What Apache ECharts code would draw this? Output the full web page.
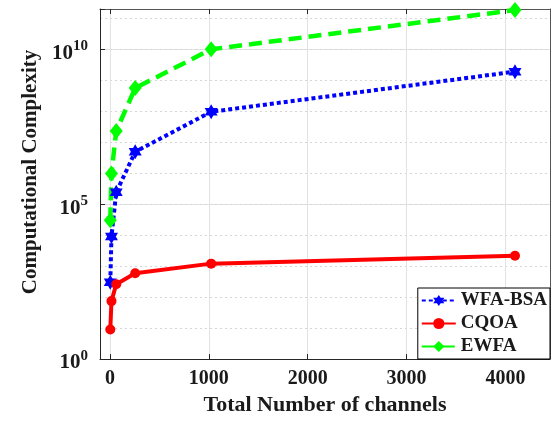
<!DOCTYPE html>
<html>
<head>
<meta charset="utf-8">
<script src="https://cdn.jsdelivr.net/npm/echarts@6/dist/echarts.min.js"></script>
<style>
html,body{margin:0;padding:0;background:#fff;}
#c{width:551px;height:421px;}
</style>
</head>
<body>
<div id="c"></div>
<script>
// ---- data ----
const channels = [4, 16, 64, 256, 1024, 4096];
const wfaBsa = [300, 9100, 2.4e5, 4.9e6, 9.6e7, 1.9e9];
const cqoa = [9, 74, 260, 590, 1200, 2150];
const ewfa = [3e4, 9.7e5, 2.3e7, 5.6e8, 1.0e10, 1.85e11];
const xTicks = [0, 1000, 2000, 3000, 4000];
const seriesNames = ['WFA-BSA', 'CQOA', 'EWFA'];
const xTitle = 'Total Number of channels';
const yTitle = 'Computational Complexity';

const FONT = '"Liberation Serif", "Times New Roman", serif';
const TXT = '#1a1a1a';
const hexagram = 'path://M0,-10L2.887,-5L8.66,-5L5.774,0L8.66,5L2.887,5L0,10L-2.887,5L-8.66,5L-5.774,0L-8.66,-5L-2.887,-5Z';

function pairs(ys){ return channels.map((x,i)=>[x, ys[i]]); }

const chart = echarts.init(document.getElementById('c'), null, {renderer:'canvas'});
const XMIN = -100, XMAX = 4450, YMIN = 1, YMAX = 2e11;

chart.setOption({
  animation: false,
  backgroundColor: '#fff',
  grid: {left: 100, top: 9, right: 1, bottom: 61, containLabel: false},
  xAxis: [{
    type: 'value', min: XMIN, max: XMAX, position: 'bottom',
    name: xTitle, nameLocation: 'middle', nameGap: 35,
    nameTextStyle: {fontFamily: FONT, fontWeight: 'bold', fontSize: 22, color: TXT},
    axisLine: {show: true, onZero: false, lineStyle: {color: '#262626', width: 1}},
    axisTick: {show: true, inside: true, length: 5, customValues: xTicks, lineStyle: {color: '#262626'}},
    axisLabel: {customValues: xTicks, formatter: function(v){ return String(v); },
      fontFamily: FONT, fontWeight: 'bold', fontSize: 20, color: TXT, margin: 10},
    splitLine: {show: true, lineStyle: {color: '#e2e2e2', width: 1}}
  }, {
    type: 'value', min: XMIN, max: XMAX, position: 'top',
    axisLine: {show: true, onZero: false, lineStyle: {color: '#555', width: 1}},
    axisTick: {show: true, inside: true, length: 5, customValues: xTicks, lineStyle: {color: '#262626'}},
    axisLabel: {show: false},
    splitLine: {show: false}
  }],
  yAxis: [{
    type: 'log', logBase: 10, min: YMIN, max: YMAX, interval: 5, position: 'left',
    axisLine: {show: true, onZero: false, lineStyle: {color: '#262626', width: 1}},
    axisTick: {show: true, inside: true, length: 5, lineStyle: {color: '#262626'}},
    axisLabel: {
      margin: 12,
      formatter: function(v){
        const e = Math.round(Math.log10(v));
        if (Math.abs(Math.log10(v) - e) > 1e-6 || e % 5 !== 0) return '';
        return '{b|10}{s|' + e + '}';
      },
      rich: {
        b: {fontFamily: FONT, fontWeight: 'bold', fontSize: 21, color: TXT, padding: [8,0,0,0]},
        s: {fontFamily: FONT, fontWeight: 'bold', fontSize: 15, color: TXT, padding: [0,0,6,0]}
      }
    },
    splitLine: {show: true, lineStyle: {color: '#e2e2e2', width: 1}}
  }, {
    type: 'log', logBase: 10, min: YMIN, max: YMAX, interval: 1, position: 'right',
    axisLine: {show: true, onZero: false, lineStyle: {color: '#555', width: 1}},
    axisTick: {show: false},
    axisLabel: {show: false},
    splitLine: {show: true, lineStyle: {color: '#d6d6d6', width: 1, type: [2, 3]}}
  }],
  legend: {
    orient: 'vertical', right: 1, bottom: 62,
    backgroundColor: '#fff', borderColor: '#000', borderWidth: 1,
    padding: [3, 3, 3, 3], itemGap: 4,
    itemWidth: 34, itemHeight: 14,
    textStyle: {fontFamily: FONT, fontWeight: 'bold', fontSize: 19, color: TXT, padding: [2,0,0,0]},
    data: seriesNames
  },
  graphic: [{
    type: 'text', x: 31, y: 172, rotation: Math.PI / 2,
    style: {text: yTitle, font: 'bold 21px ' + FONT, fill: TXT, textAlign: 'center', textVerticalAlign: 'middle'}
  }],
  series: [{
    name: seriesNames[0], type: 'line', xAxisIndex: 0, yAxisIndex: 0,
    data: pairs(wfaBsa),
    lineStyle: {color: '#0000ff', width: 4, type: [4, 3]},
    itemStyle: {color: '#0000ff'},
    symbol: hexagram, symbolSize: 15, symbolKeepAspect: true, showAllSymbol: true
  }, {
    name: seriesNames[1], type: 'line', xAxisIndex: 0, yAxisIndex: 0,
    data: pairs(cqoa),
    lineStyle: {color: '#ff0000', width: 4},
    itemStyle: {color: '#ff0000'},
    symbol: 'circle', symbolSize: 10, showAllSymbol: true
  }, {
    name: seriesNames[2], type: 'line', xAxisIndex: 0, yAxisIndex: 0,
    data: pairs(ewfa),
    lineStyle: {color: '#00ff00', width: 4.5, type: [13, 7]},
    itemStyle: {color: '#00ff00'},
    symbol: 'diamond', symbolSize: [13, 16], showAllSymbol: true
  }]
});
</script>
</body>
</html>
